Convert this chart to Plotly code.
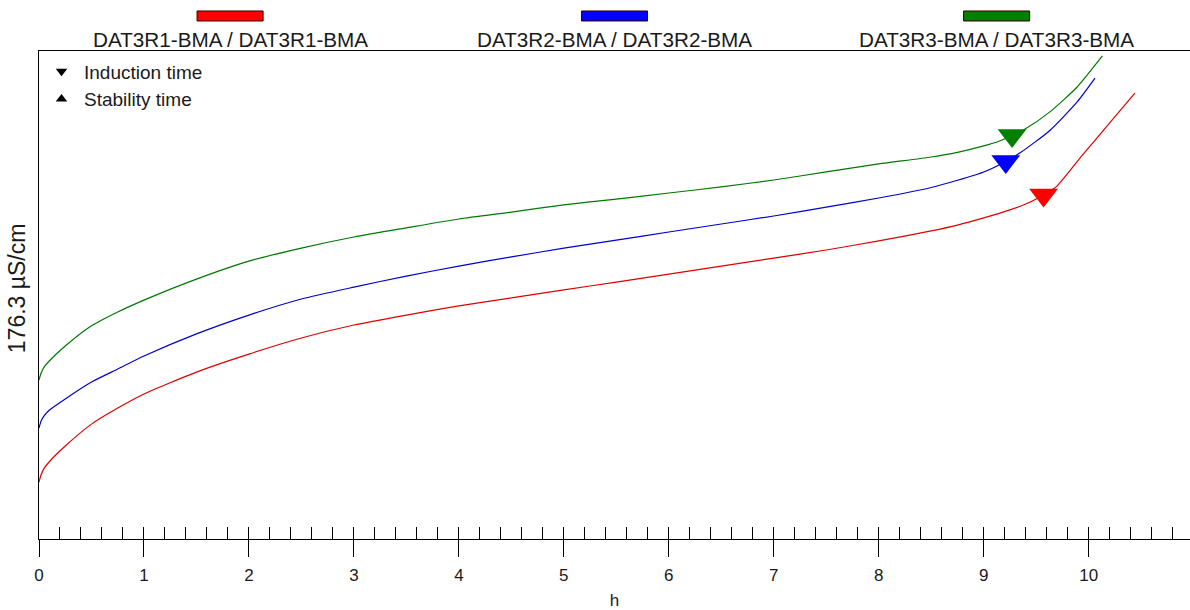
import plotly.graph_objects as go

# Conductivity curves (hours, µS/cm) for the three samples
r1_hours = [0, 0.02, 0.05, 0.1, 0.25, 0.5, 0.75, 1, 1.5, 2, 2.5, 3, 3.5, 4, 4.5, 5, 5.5, 6, 6.5,
            7, 7.5, 8, 8.5, 8.75, 9, 9.25, 9.4, 9.57, 9.69, 9.94, 10.2, 10.44]
r1_vals = [20.6, 23.2, 25.6, 28.0, 33.6, 41.5, 47.3, 52.4, 60.3, 66.8, 72.6, 77.3, 80.9, 84.2, 87.1,
           90.0, 92.8, 95.7, 98.6, 101.5, 104.4, 107.7, 111.3, 113.4, 116.0, 118.9, 121.0,
           124.3, 127.2, 138.7, 150.3, 161.1]

r2_hours = [0, 0.02, 0.05, 0.1, 0.25, 0.5, 0.75, 1, 1.5, 2, 2.5, 3, 3.5, 4, 4.5, 5, 5.5, 6, 6.5,
            7, 7.5, 8, 8.5, 8.75, 9, 9.21, 9.35, 9.63, 9.89, 10.06]
r2_vals = [40.1, 42.6, 44.6, 46.6, 50.6, 56.7, 61.4, 66.1, 74.1, 80.9, 86.7, 91.0, 95.0, 98.6, 101.9,
           105.1, 108.0, 110.9, 113.8, 116.7, 119.9, 123.2, 127.0, 129.6, 132.6, 136.4, 139.6,
           147.6, 157.9, 166.5]

r3_hours = [0, 0.02, 0.05, 0.1, 0.25, 0.5, 0.75, 1, 1.5, 2, 2.5, 3, 3.5, 4, 4.5, 5, 5.5, 6, 6.5,
            7, 7.5, 8, 8.5, 8.75, 9, 9.15, 9.27, 9.39, 9.63, 9.89, 10.13]
r3_vals = [57.4, 60.0, 62.2, 64.4, 69.7, 77.0, 82.0, 86.3, 93.9, 100.4, 105.1, 109.1, 112.4, 115.6,
           118.1, 120.7, 122.8, 125.0, 127.2, 129.7, 132.6, 135.5, 138.0, 139.7, 142.0, 143.8,
           145.8, 148.0, 154.3, 163.3, 174.5]

# Induction time points per sample
induction_h = [9.57, 9.21, 9.27]
induction_v = [124.3, 136.4, 145.8]

sample_names = ["DAT3R1-BMA / DAT3R1-BMA", "DAT3R2-BMA / DAT3R2-BMA", "DAT3R3-BMA / DAT3R3-BMA"]
line_colors = ["#e00000", "#0000d0", "#007800"]
mark_colors = ["#ff0000", "#0000ff", "#008000"]
y_title = "176.3 µS/cm"
x_title = "h"
y_max = 176.3
x_max = 10.965

FONT = "Liberation Sans, Arial, sans-serif"
TXT = "#1a1a1a"

series = [(r1_hours, r1_vals), (r2_hours, r2_vals), (r3_hours, r3_vals)]

fig = go.Figure()

for (xs, ys), col in zip(series, line_colors):
    fig.add_trace(go.Scatter(x=xs, y=ys, mode="lines",
                             line=dict(color=col, width=1.2, shape="spline", smoothing=0.6),
                             showlegend=False, hoverinfo="skip"))

for h, v, col in zip(induction_h, induction_v, mark_colors):
    fig.add_trace(go.Scatter(x=[h], y=[v], mode="markers",
                             marker=dict(symbol="triangle-down", size=25, color=col, line=dict(width=0)),
                             showlegend=False, hoverinfo="skip"))

# legend entries for the marker meanings
fig.add_trace(go.Scatter(x=[None], y=[None], mode="markers", name="Induction time",
                         marker=dict(symbol="triangle-down", size=10, color="black")))
fig.add_trace(go.Scatter(x=[None], y=[None], mode="markers", name="Stability time",
                         marker=dict(symbol="triangle-up", size=10, color="black")))

# second x axis carrying the small upward ticks
fig.add_trace(go.Scatter(x=[None], y=[None], xaxis="x2", showlegend=False, hoverinfo="skip"))

# sample captions above the plot
centers = [0.166, 0.5, 0.832]
half_w = 0.0287
for c, name, col in zip(centers, sample_names, mark_colors):
    fig.add_shape(type="rect", xref="paper", yref="paper", x0=c - half_w, x1=c + half_w,
                  y0=1.0615, y1=1.082, fillcolor=col, line=dict(color="#330000", width=1))
    fig.add_annotation(text=name, xref="paper", yref="paper", x=c, y=1.0235,
                       xanchor="center", yanchor="middle", showarrow=False,
                       font=dict(family=FONT, size=20.7, color=TXT))

fig.add_annotation(text=y_title, xref="paper", yref="paper", x=-0.0191, y=0.514, textangle=-90,
                   xanchor="center", yanchor="middle", showarrow=False,
                   font=dict(family=FONT, size=23, color=TXT))

fig.update_layout(
    width=1190, height=610,
    margin=dict(l=39, r=0, t=51, b=71),
    paper_bgcolor="white", plot_bgcolor="white",
    font=dict(family=FONT, color=TXT),
    showlegend=True,
    legend=dict(x=0.0, y=0.997, xanchor="left", yanchor="top", bgcolor="rgba(0,0,0,0)",
                font=dict(family=FONT, size=19, color=TXT), tracegroupgap=0, itemwidth=35),
    xaxis=dict(range=[0, x_max], showline=True, linecolor="black", linewidth=1, mirror=True,
               ticks="outside", ticklen=17, tickwidth=1, tickcolor="black", tick0=0, dtick=1,
               showgrid=False, zeroline=False, ticklabelstandoff=4,
               tickfont=dict(family=FONT, size=17, color=TXT),
               title=dict(text=x_title, font=dict(family=FONT, size=17, color=TXT), standoff=9)),
    xaxis2=dict(range=[0, x_max], overlaying="x", anchor="y", side="bottom",
                ticks="inside", ticklen=12, tickwidth=1, tickcolor="black", tick0=0, dtick=0.2,
                showticklabels=False, showline=False, showgrid=False, zeroline=False),
    yaxis=dict(range=[0, y_max], showline=True, linecolor="black", linewidth=1, mirror=False,
               ticks="", showticklabels=False, showgrid=False, zeroline=False),
)

fig.write_html("out.html")
